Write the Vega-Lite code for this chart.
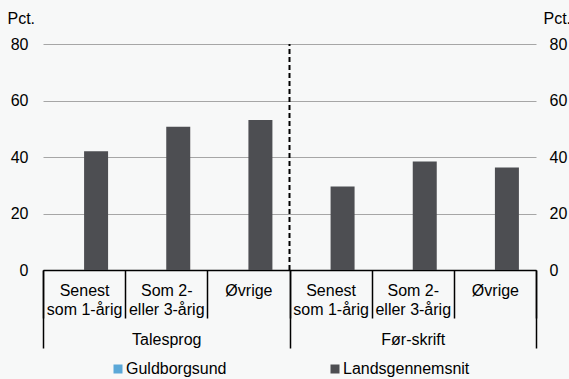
{
  "$schema": "https://vega.github.io/schema/vega-lite/v6.json",
  "width": 493,
  "height": 226,
  "autosize": {"type": "none"},
  "padding": {"left": 43, "top": 44, "right": 33, "bottom": 109},
  "background": "#f7f8f8",
  "config": {
    "view": {"stroke": null},
    "font": "Liberation Sans",
    "axis": {"labelFont": "Liberation Sans", "titleFont": "Liberation Sans", "labelColor": "#000000", "titleColor": "#000000"}
  },
  "data": {
    "values": [
      {"cat": "T1", "grp": "Talesprog", "series": "Guldborgsund", "value": null},
      {"cat": "T2", "grp": "Talesprog", "series": "Guldborgsund", "value": null},
      {"cat": "T3", "grp": "Talesprog", "series": "Guldborgsund", "value": null},
      {"cat": "F1", "grp": "Før-skrift", "series": "Guldborgsund", "value": null},
      {"cat": "F2", "grp": "Før-skrift", "series": "Guldborgsund", "value": null},
      {"cat": "F3", "grp": "Før-skrift", "series": "Guldborgsund", "value": null},
      {"cat": "T1", "grp": "Talesprog", "series": "Landsgennemsnit", "value": 42.0},
      {"cat": "T2", "grp": "Talesprog", "series": "Landsgennemsnit", "value": 50.7},
      {"cat": "T3", "grp": "Talesprog", "series": "Landsgennemsnit", "value": 53.1},
      {"cat": "F1", "grp": "Før-skrift", "series": "Landsgennemsnit", "value": 29.6},
      {"cat": "F2", "grp": "Før-skrift", "series": "Landsgennemsnit", "value": 38.4},
      {"cat": "F3", "grp": "Før-skrift", "series": "Landsgennemsnit", "value": 36.3}
    ]
  },
  "layer": [
    {
      "layer": [
        {
          "mark": {"type": "bar"},
          "encoding": {
            "x": {
              "field": "cat", "type": "nominal", "sort": ["T1", "T2", "T3", "F1", "F2", "F3"],
              "scale": {"domain": ["T1", "T2", "T3", "F1", "F2", "F3"], "paddingInner": 0, "paddingOuter": 0},
              "axis": {
                "orient": "bottom", "title": null, "tickBand": "extent", "tickSize": 48, "tickColor": "#000000", "tickWidth": 1.5,
                "domainColor": "#000000", "domainWidth": 1.5, "labelAngle": 0, "labelFontSize": 16, "labelLineHeight": 19,
                "labelBaseline": "top", "labelPadding": -36, "labelAlign": "center",
                "labelExpr": "datum.value == 'T1' || datum.value == 'F1' ? ['Senest', 'som 1-årig'] : (datum.value == 'T2' || datum.value == 'F2' ? ['Som 2-', 'eller 3-årig'] : (datum.value == 'T3' || datum.value == 'F3' ? 'Øvrige' : ''))"
              }
            },
            "xOffset": {
              "field": "series", "type": "nominal",
              "scale": {"domain": ["Guldborgsund", "Landsgennemsnit"], "paddingInner": 0, "paddingOuter": 0.712}
            },
            "y": {
              "field": "value", "type": "quantitative",
              "scale": {"domain": [0, 80], "nice": false},
              "axis": {
                "orient": "left", "values": [0, 20, 40, 60, 80], "title": "Pct.", "titleAngle": 0, "titleAlign": "left",
                "titleBaseline": "alphabetic", "titleX": -36, "titleY": -21, "titleFontSize": 16, "titleFontWeight": "normal",
                "labelFontSize": 16, "labelPadding": 15, "ticks": false, "domain": false,
                "grid": true, "gridColor": "#a6a6a6", "gridWidth": 1
              }
            },
            "color": {
              "field": "series", "type": "nominal",
              "scale": {"domain": ["Guldborgsund", "Landsgennemsnit"], "range": ["#5ba8d8", "#4d4e52"]},
              "legend": {
                "orient": "none", "legendX": 67, "legendY": 317, "direction": "horizontal", "title": null,
                "symbolType": "square", "symbolSize": 81, "symbolStrokeWidth": 0, "labelFontSize": 16, "labelOffset": 0,
                "columnPadding": 100, "padding": 0, "labelColor": "#000000"
              }
            }
          }
        },
        {
          "transform": [{"filter": "datum.cat == 'F1' && datum.series == 'Landsgennemsnit'"}],
          "mark": {"type": "rule", "color": "#000000", "strokeWidth": 2, "strokeDash": [5, 3]},
          "encoding": {
            "x": {"field": "cat", "type": "nominal", "bandPosition": 0},
            "y": {"datum": 0, "type": "quantitative"},
            "y2": {"datum": 80}
          }
        }
      ]
    },
    {
      "mark": {"type": "point", "opacity": 0},
      "encoding": {
        "x": {
          "field": "grp", "type": "nominal", "sort": ["Talesprog", "Før-skrift"],
          "scale": {"domain": ["Talesprog", "Før-skrift"], "paddingInner": 0, "paddingOuter": 0},
          "axis": {
            "orient": "bottom", "title": null, "domain": false, "tickBand": "extent", "tickSize": 78, "tickColor": "#000000",
            "tickWidth": 1.5, "labelAngle": 0, "labelFontSize": 16, "labelBaseline": "top", "labelPadding": -17,
            "labelExpr": "datum.value == 'Talesprog' || datum.value == 'Før-skrift' ? datum.value : ''"
          }
        },
        "y": {
          "field": "value", "type": "quantitative",
          "scale": {"domain": [0, 80], "nice": false},
          "axis": {
            "orient": "right", "values": [0, 20, 40, 60, 80], "title": "Pct.", "titleAngle": 0, "titleAlign": "left",
            "titleBaseline": "alphabetic", "titleX": 7, "titleY": -21, "titleFontSize": 16, "titleFontWeight": "normal",
            "labelFontSize": 16, "labelPadding": 13, "ticks": false, "domain": false, "grid": false
          }
        }
      }
    }
  ],
  "resolve": {"scale": {"x": "independent", "y": "independent"}, "axis": {"x": "independent", "y": "independent"}}
}
